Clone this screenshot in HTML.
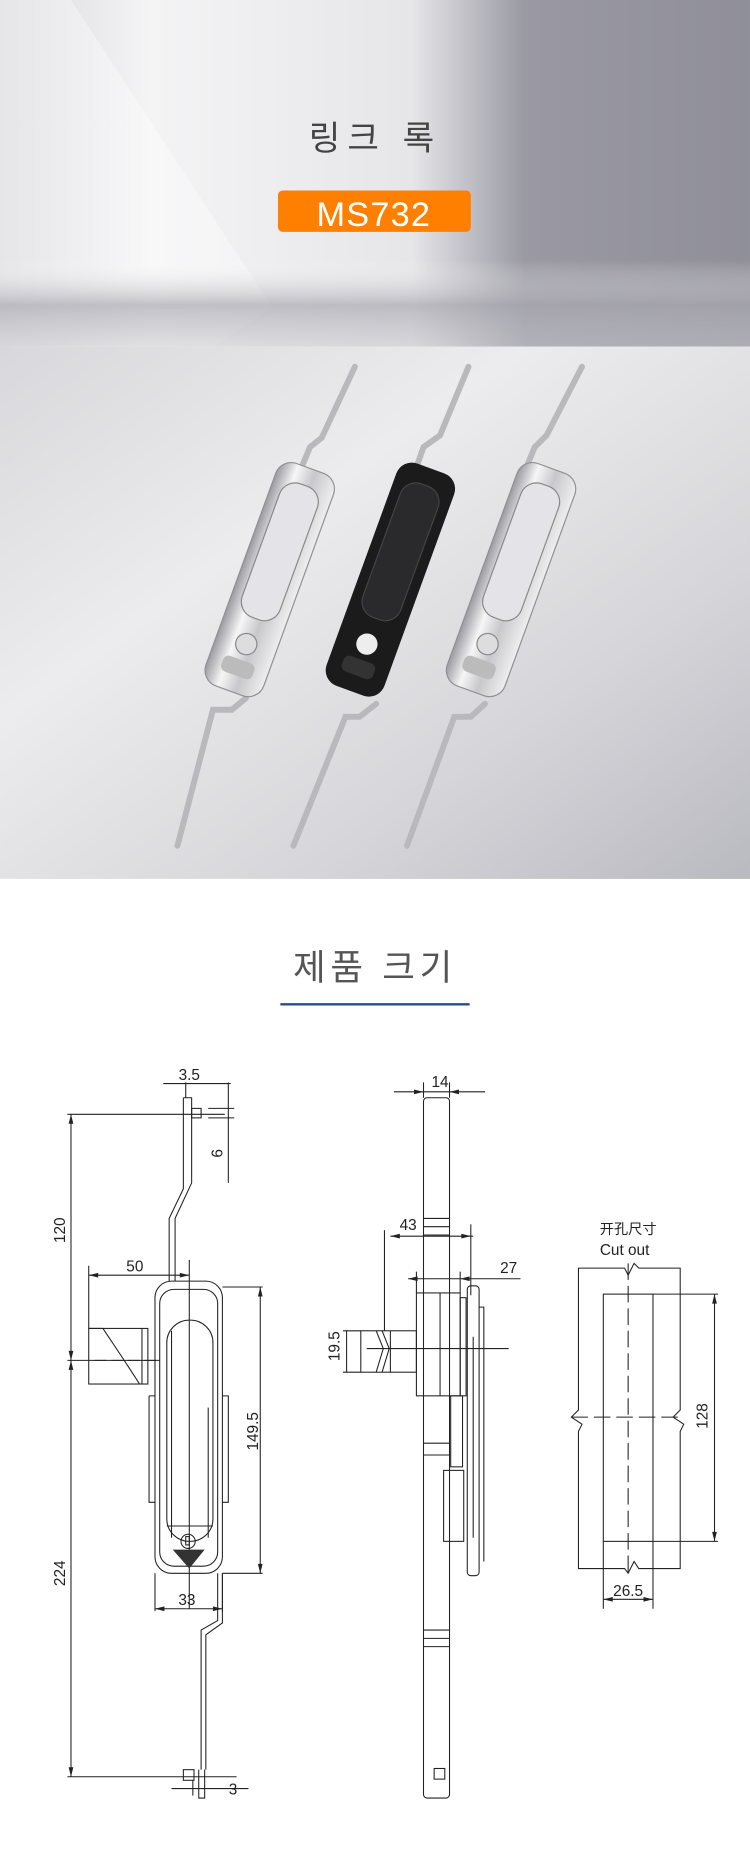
<!DOCTYPE html>
<html><head><meta charset="utf-8"><style>
html,body{margin:0;padding:0;background:#fff}
svg{display:block}
text{font-family:"Liberation Sans","Noto Sans CJK KR",sans-serif}
</style></head><body>
<svg width="750" height="1854" viewBox="0 0 634 1567.3" xmlns="http://www.w3.org/2000/svg">
<defs>
<linearGradient id="hd" x1="0" y1="0" x2="1" y2="0">
<stop offset="0" stop-color="#d8d8dc"/><stop offset="0.2" stop-color="#f4f4f5"/><stop offset="0.55" stop-color="#e6e6e9"/><stop offset="0.7" stop-color="#9a99a3"/><stop offset="1" stop-color="#908f99"/></linearGradient>
<linearGradient id="hd2" x1="0" y1="0" x2="0" y2="1">
<stop offset="0" stop-color="#fff" stop-opacity="0"/><stop offset="0.75" stop-color="#fff" stop-opacity="0"/><stop offset="0.88" stop-color="#a9a8b0" stop-opacity="0.7"/><stop offset="1" stop-color="#c8c8cd" stop-opacity="0.5"/></linearGradient>
<linearGradient id="ph" x1="0" y1="0" x2="1" y2="1">
<stop offset="0" stop-color="#d8d8dc"/><stop offset="0.35" stop-color="#ececee"/><stop offset="0.7" stop-color="#d6d6da"/><stop offset="1" stop-color="#b9b9c0"/></linearGradient>
<linearGradient id="chrome" x1="0" y1="0" x2="1" y2="0">
<stop offset="0" stop-color="#9a9aa0"/><stop offset="0.3" stop-color="#f6f6f8"/><stop offset="0.6" stop-color="#c8c8cc"/><stop offset="1" stop-color="#eeeef0"/></linearGradient>
</defs>
<rect x="0" y="0" width="634" height="293" fill="url(#hd)"/>
<polygon points="0,0 60,0 230,260 180,293 0,293" fill="#fff" opacity="0.35"/>
<rect x="0" y="0" width="634" height="293" fill="url(#hd2)"/>
<text x="317" y="127" font-size="29" fill="#444" text-anchor="middle" letter-spacing="6">링크 록</text>
<rect x="235" y="161" width="163" height="35" rx="4" fill="#ff7f00"/>
<text x="316" y="191" font-size="29" fill="#fff" text-anchor="middle" letter-spacing="1">MS732</text>
<rect x="0" y="293" width="634" height="450" fill="url(#ph)"/>
<g stroke-linecap="round" fill="none">
<path d="M300,310 L272,370 L262,378 L255,395 M208,590 L196,600 L180,600 L150,715" stroke="#b8b8bd" stroke-width="5"/>
<path d="M396,310 L372,368 L358,378 L352,395 M318,595 L304,606 L292,606 L248,715" stroke="#b8b8bd" stroke-width="5"/>
<path d="M492,310 L462,368 L452,378 L445,395 M410,595 L398,606 L384,606 L344,715" stroke="#b8b8bd" stroke-width="5"/>
</g>
<g transform="translate(228,490) rotate(20)"><rect x="-26" y="-100" width="52" height="200" rx="14" fill="url(#chrome)" stroke="#8f8f95"/><rect x="-17" y="-85" width="34" height="120" rx="14" fill="#e4e4e8" stroke="#888"/><circle cx="0" cy="58" r="9" fill="#ddd" stroke="#888"/><rect x="-14" y="72" width="28" height="14" rx="5" fill="#bbb"/></g>
<g transform="translate(330,490) rotate(20)"><rect x="-26" y="-100" width="52" height="200" rx="14" fill="#1b1b1c"/><rect x="-17" y="-85" width="34" height="120" rx="14" fill="#2a2a2c" stroke="#444"/><circle cx="0" cy="58" r="9" fill="#eee"/><rect x="-14" y="72" width="28" height="14" rx="5" fill="#333"/></g>
<g transform="translate(432,490) rotate(20)"><rect x="-26" y="-100" width="52" height="200" rx="14" fill="url(#chrome)" stroke="#8f8f95"/><rect x="-17" y="-85" width="34" height="120" rx="14" fill="#e4e4e8" stroke="#888"/><circle cx="0" cy="58" r="9" fill="#ddd" stroke="#888"/><rect x="-14" y="72" width="28" height="14" rx="5" fill="#bbb"/></g>

<text x="317" y="828" font-size="30" fill="#555" text-anchor="middle" letter-spacing="4">제품 크기</text>
<rect x="237" y="848" width="160" height="2" fill="#2b4a86"/>

<g stroke="#222" stroke-width="0.9" fill="none">
<path d="M57,942 H190 M57,1150 H135 M57,1502 H200 M60,942 V1502"/>
<path d="M155,928 H162 V1000 L148,1030 V1083 M155,928 V1005 L143,1030 V1083"/>
<rect x="162" y="937" width="8" height="8"/>
<path d="M138,916 H195 M157,915 V928 M193,915 V1000 M176,937 H198 M176,945 H198"/>
<rect x="131" y="1083" width="57" height="247" rx="14"/>
<rect x="135" y="1090" width="49" height="234" rx="12"/>
<rect x="141" y="1116" width="39" height="187" rx="19"/>
<path d="M145,1190 V1300 M176,1190 V1300 M145,1125 V1290"/>
<path d="M141,1290 H180"/>
<circle cx="159" cy="1303" r="6"/><rect x="157" y="1299" width="3" height="7"/>
<path d="M126,1180 H131 M126,1180 V1270 H131 M188,1180 H193 V1270 H188"/>
<rect x="75" y="1123" width="50" height="47"/>
<path d="M75,1123 L87,1123 L105,1150 L118,1170 M120,1123 V1170"/>
<path d="M75,1078 H160 M75,1070 V1123 M160,1065 V1360 M188,1088 H222 M188,1330 H222 M220,1088 V1330 M131,1330 V1362 M188,1330 V1362 M131,1360 H188"/>
<path d="M184,1330 V1370 L170,1378 V1496 M188,1330 V1372 L174,1382 V1496 M168,1496 V1520 H173 V1496"/>
<rect x="155" y="1496" width="9" height="9"/>
<path d="M145,1512 H210 M163,1505 V1518"/>
<path d="M80,1150 H135" stroke-dasharray="10,4"/>
<rect x="358" y="928" width="22" height="592" rx="3"/>
<path d="M358,1030 H380 M358,1037 H380 M358,1044 H380 M358,1378 H380 M358,1385 H380 M358,1392 H380 M358,1220 H380 M358,1230 H380"/>
<rect x="352" y="1093" width="37" height="87"/>
<path d="M372,1093 V1180"/>
<rect x="389" y="1097" width="5" height="83"/>
<rect x="395" y="1087" width="10" height="245" rx="3"/>
<path d="M400,1130 V1300 M405,1105 H409 V1320"/>
<rect x="375" y="1243" width="17" height="60"/>
<rect x="381" y="1180" width="10" height="60"/>
<rect x="305" y="1125" width="47" height="35"/>
<path d="M318,1125 L324,1140 L318,1160 M323,1125 L329,1140 L323,1160 M330,1125 V1160"/>
<rect x="367" y="1495" width="9" height="9"/>
<path d="M330,1045 H400 M325,1040 V1125 M398,1035 V1095 M345,1081 H440 M352,1075 V1093 M389,1075 V1093 M333,923 H410 M358,915 V928 M380,915 V928"/>
<path d="M290,1125 H305 M290,1160 H305 M293,1125 V1160 M310,1140 H430"/>
<path d="M489,1072 H528 L531,1078 L536,1068 L540,1072 H575 V1192 L569,1198 L578,1204 L575,1210 V1326 H540 L536,1320 L531,1330 L528,1326 H489 V1210 L492,1204 L483,1198 L489,1192 Z"/>
<rect x="510" y="1094" width="42" height="209"/>
<path d="M531,1068 V1332 M483,1198 H578" stroke-dasharray="14,5"/>
<path d="M552,1094 H607 M552,1303 H607 M604,1094 V1303 M510,1303 V1360 M552,1303 V1360 M510,1352 H552"/>
</g>
<path d="M146,1310 H173 L160,1326 Z" fill="#333"/>
<g fill="#222">
<path d="M60,942 l-2,8 h4z M60,1150 l-2,-8 h4z M60,1150 l-2,8 h4z M60,1502 l-2,-8 h4z"/>
<path d="M220,1088 l-2,8 h4z M220,1330 l-2,-8 h4z M604,1094 l-2,8 h4z M604,1303 l-2,-8 h4z"/>
<path d="M131,1360 l8,-2 v4z M188,1360 l-8,-2 v4z M75,1078 l8,-2 v4z M160,1078 l-8,-2 v4z M510,1352 l8,-2 v4z M552,1352 l-8,-2 v4z"/>
<path d="M330,1045 l8,-2 v4z M398,1045 l-8,-2 v4z M345,1081 l8,-2 v4z M389,1081 l8,-2 v4z"/>
<path d="M358,923 l-8,-2 v4z M380,923 l8,-2 v4z"/>
</g>
<g font-size="13" fill="#222" text-anchor="middle">
<text x="160" y="913">3.5</text>
<text x="114" y="1075">50</text>
<text x="158" y="1357">33</text>
<text x="197" y="1517">3</text>
<text x="372" y="919">14</text>
<text x="345" y="1040">43</text>
<text x="430" y="1076">27</text>
<text x="531" y="1349">26.5</text>
<text x="531" y="1043" font-size="12">开孔尺寸</text>
<text x="528" y="1061" font-size="13">Cut out</text>
<text transform="translate(55,1040) rotate(-90)">120</text>
<text transform="translate(55,1330) rotate(-90)">224</text>
<text transform="translate(188,975) rotate(-90)">6</text>
<text transform="translate(218,1210) rotate(-90)">149.5</text>
<text transform="translate(287,1138) rotate(-90)">19.5</text>
<text transform="translate(598,1197) rotate(-90)">128</text>
</g>
</svg>
</body></html>
